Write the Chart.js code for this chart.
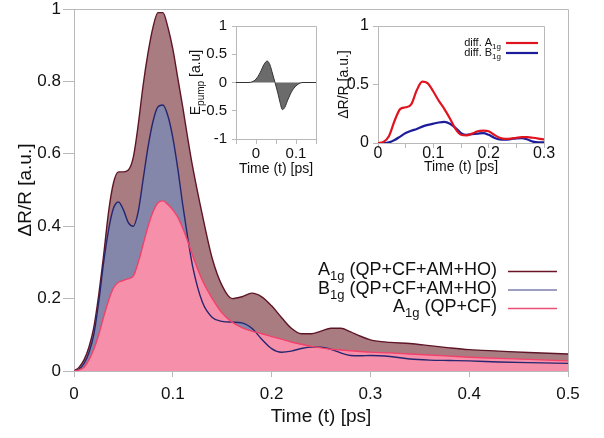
<!DOCTYPE html>
<html>
<head>
<meta charset="utf-8">
<script src="https://cdn.jsdelivr.net/npm/chart.js@4.4.1/dist/chart.umd.min.js"></script>
<style>
  body { margin: 0; background: #fff; }
  #wrap { position: relative; width: 604px; height: 438px; }
  #wrap canvas { position: absolute; }
</style>
</head>
<body>
<div id="wrap">
  <canvas id="main" width="604" height="438" style="left:0;top:0"></canvas>
  <canvas id="pump" width="145" height="166" style="left:180px;top:12px"></canvas>
  <canvas id="diff" width="232" height="166" style="left:336px;top:12px"></canvas>
</div>
<script>
// main panel: delta R / R vs time
const mainTime = [
  0, 0.005, 0.01, 0.015, 0.02, 0.025, 0.03, 0.035, 0.04, 0.045,
  0.05, 0.055, 0.06, 0.065, 0.07, 0.075, 0.08, 0.085, 0.09, 0.095,
  0.1, 0.105, 0.11, 0.115, 0.12, 0.13, 0.14, 0.15, 0.16, 0.17,
  0.18, 0.19, 0.2, 0.21, 0.22, 0.23, 0.24, 0.25, 0.26, 0.27,
  0.28, 0.29, 0.3, 0.32, 0.34, 0.36, 0.38, 0.4, 0.43, 0.46, 0.5
];
const a1gFull = [
  0, 0.01, 0.03, 0.065, 0.12, 0.21, 0.32, 0.44, 0.52, 0.55,
  0.55, 0.555, 0.59, 0.68, 0.79, 0.88, 0.95, 0.99, 0.99, 0.95,
  0.89, 0.81, 0.73, 0.645, 0.565, 0.43, 0.31, 0.235, 0.2, 0.205,
  0.215, 0.205, 0.18, 0.148, 0.118, 0.103, 0.103, 0.11, 0.118, 0.118,
  0.108, 0.096, 0.086, 0.079, 0.076, 0.07, 0.064, 0.059, 0.055, 0.051, 0.047
];
const b1gFull = [
  0, 0.005, 0.02, 0.05, 0.1, 0.19, 0.3, 0.39, 0.45, 0.467,
  0.445, 0.41, 0.4, 0.44, 0.53, 0.62, 0.69, 0.73, 0.735, 0.705,
  0.645, 0.56, 0.46, 0.37, 0.29, 0.19, 0.148, 0.137, 0.135, 0.133,
  0.118, 0.088, 0.062, 0.052, 0.055, 0.062, 0.066, 0.066, 0.06, 0.05,
  0.043, 0.042, 0.043, 0.04, 0.033, 0.03, 0.029, 0.028, 0.025, 0.023, 0.021
];
const a1gQpCf = [
  0, 0.003, 0.01, 0.03, 0.06, 0.1, 0.15, 0.195, 0.23, 0.245,
  0.25, 0.255, 0.262, 0.3, 0.35, 0.4, 0.44, 0.465, 0.47, 0.46,
  0.445, 0.425, 0.395, 0.36, 0.32, 0.25, 0.2, 0.16, 0.135, 0.12,
  0.11, 0.103, 0.095, 0.088, 0.08, 0.074, 0.068, 0.064, 0.06, 0.058,
  0.056, 0.054, 0.052, 0.05, 0.047, 0.044, 0.041, 0.038, 0.035, 0.032, 0.028
];
const mainXTicks = { min: 0, max: 0.5, step: 0.1 };
const mainYTicks = { min: 0, max: 1, step: 0.2 };

// inset 1: pump field
const pumpTime = [-0.05, -0.02, -0.01, 0, 0.01, 0.02, 0.028, 0.035, 0.04, 0.0475,
  0.055, 0.06, 0.066, 0.072, 0.08, 0.09, 0.1, 0.11, 0.12, 0.15];
const pumpField = [0, 0, 0.01, 0.06, 0.17, 0.32, 0.38, 0.31, 0.19, 0,
  -0.2, -0.35, -0.48, -0.44, -0.3, -0.15, -0.06, -0.01, 0, 0];

// inset 2: differences
const diffTime = [0, 0.01, 0.02, 0.03, 0.04, 0.05, 0.06, 0.07, 0.08, 0.09,
  0.1, 0.11, 0.12, 0.13, 0.14, 0.15, 0.16, 0.17, 0.18, 0.19,
  0.2, 0.21, 0.22, 0.23, 0.24, 0.25, 0.26, 0.27, 0.28, 0.29, 0.3];
const diffA1g = [0, 0.01, 0.06, 0.19, 0.29, 0.305, 0.33, 0.45, 0.525, 0.51,
  0.44, 0.36, 0.29, 0.21, 0.12, 0.07, 0.065, 0.08, 0.1, 0.105,
  0.1, 0.07, 0.045, 0.035, 0.038, 0.045, 0.05, 0.05, 0.045, 0.038, 0.03];
const diffB1g = [0, 0, 0.005, 0.025, 0.055, 0.085, 0.105, 0.12, 0.14, 0.155,
  0.165, 0.175, 0.18, 0.165, 0.13, 0.085, 0.07, 0.075, 0.08, 0.085,
  0.07, 0.045, 0.03, 0.028, 0.033, 0.04, 0.042, 0.03, 0.012, 0.005, 0.005];

const FONT = "'Liberation Sans', Arial, sans-serif";
const AXIS_GRAY = '#b9b9b9';
Chart.defaults.font.family = FONT;
Chart.defaults.color = '#111';

const pts = (xs, ys) => xs.map((x, i) => ({ x, y: ys[i] }));

// text with subscripts; parts = [text, size, baseline shift]
function drawRich(ctx, parts, x, y, align) {
  const items = parts.map(([text, size, dy]) => {
    ctx.font = size + 'px ' + FONT;
    return { text, size, dy, w: ctx.measureText(text).width };
  });
  const total = items.reduce((s, it) => s + it.w, 0);
  let cx = align === 'right' ? x - total : align === 'center' ? x - total / 2 : x;
  ctx.textAlign = 'left';
  ctx.textBaseline = 'alphabetic';
  items.forEach((it) => {
    ctx.font = it.size + 'px ' + FONT;
    ctx.fillText(it.text, cx, y + it.dy);
    cx += it.w;
  });
}

const framePlugin = {
  id: 'frame',
  afterDatasetsDraw(chart) {
    const { ctx, chartArea: a } = chart;
    ctx.save();
    ctx.strokeStyle = AXIS_GRAY;
    ctx.lineWidth = 1;
    ctx.beginPath();
    ctx.moveTo(Math.round(a.left), Math.round(a.top) + 0.5);
    ctx.lineTo(Math.round(a.right) + 0.5, Math.round(a.top) + 0.5);
    ctx.lineTo(Math.round(a.right) + 0.5, Math.round(a.bottom));
    ctx.stroke();
    ctx.restore();
  },
};

function fitTo(width, height) {
  return (s) => {
    if (width != null) s.width = width;
    if (height != null) s.height = height;
    s.paddingTop = 0; s.paddingBottom = 0; s.paddingLeft = 0; s.paddingRight = 0;
  };
}

function axis(opts) {
  return {
    type: 'linear',
    min: opts.min,
    max: opts.max,
    ticks: {
      stepSize: opts.step,
      font: { size: opts.fontSize, lineHeight: 1 },
      padding: opts.padding,
      color: '#111',
      maxRotation: 0,
      autoSkip: false,
      callback: opts.callback,
    },
    grid: { drawOnChartArea: false, tickLength: opts.tickLength, color: AXIS_GRAY },
    border: { color: AXIS_GRAY },
    title: opts.title
      ? { display: true, text: opts.title, font: { size: opts.titleSize }, padding: opts.titlePadding, color: '#111' }
      : { display: false },
    afterFit: opts.afterFit,
  };
}

// ---------- main chart ----------
const mainLegend = {
  id: 'mainLegend',
  afterDraw(chart) {
    const ctx = chart.ctx;
    const rows = [
      { name: ['A', ' (QP+CF+AM+HO)'], color: '#6b1426', y: 275 },
      { name: ['B', ' (QP+CF+AM+HO)'], color: '#7b7fae', y: 293.5 },
      { name: ['A', ' (QP+CF)'], color: '#ea4f76', y: 312 },
    ];
    ctx.save();
    ctx.fillStyle = '#111';
    rows.forEach((r) => {
      drawRich(ctx, [[r.name[0], 18, 0], ['1g', 13, 5], [r.name[1], 18, 0]], 497, r.y, 'right');
      ctx.strokeStyle = r.color;
      ctx.lineWidth = 1.5;
      ctx.beginPath();
      ctx.moveTo(508, r.y - 3.5);
      ctx.lineTo(557, r.y - 3.5);
      ctx.stroke();
    });
    ctx.restore();
  },
};

function area(label, ys, line, fill) {
  return {
    label,
    data: pts(mainTime, ys),
    borderColor: line,
    backgroundColor: fill,
    borderWidth: 1.4,
    fill: 'origin',
    pointRadius: 0,
    cubicInterpolationMode: 'monotone',
  };
}

new Chart(document.getElementById('main'), {
  type: 'line',
  data: {
    datasets: [
      area('A1g (QP+CF)', a1gQpCf, '#f2416a', '#f690aa'),
      area('B1g (QP+CF+AM+HO)', b1gFull, '#25266f', '#8487aa'),
      area('A1g (QP+CF+AM+HO)', a1gFull, '#5e1627', '#a97c82'),
    ],
  },
  options: {
    responsive: false,
    animation: false,
    layout: { padding: { left: 0, top: 9, right: 36, bottom: 0 } },
    plugins: {
      legend: { display: false },
      tooltip: { enabled: false },
      filler: { drawTime: 'beforeDatasetsDraw' },
    },
    scales: {
      x: axis({
        min: mainXTicks.min, max: mainXTicks.max, step: mainXTicks.step,
        fontSize: 17, padding: 9, tickLength: 6,
        title: 'Time (t) [ps]', titleSize: 19, titlePadding: { top: 0, bottom: 10 },
        afterFit: fitTo(null, 67),
      }),
      y: axis({
        min: mainYTicks.min, max: mainYTicks.max, step: mainYTicks.step,
        fontSize: 17, padding: 2, tickLength: 11,
        title: 'ΔR/R [a.u.]', titleSize: 19, titlePadding: { top: 14, bottom: 0 },
        afterFit: fitTo(74, null),
      }),
    },
  },
  plugins: [framePlugin, mainLegend],
});

// ---------- inset 1: pump ----------
const tenthsOnly = (v) => {
  const r = Math.round(v * 10) / 10;
  return Math.abs(r - v) < 1e-9 ? String(r === 0 ? 0 : r) : '';
};

const pumpTitle = {
  id: 'pumpTitle',
  afterDraw(chart) {
    const { ctx, chartArea: a } = chart;
    ctx.save();
    ctx.fillStyle = '#111';
    ctx.translate(20, (a.top + a.bottom) / 2);
    ctx.rotate(-Math.PI / 2);
    drawRich(ctx, [['E', 14, 0], ['pump', 10, 4], [' [a.u]', 14, 0]], 0, 0, 'center');
    ctx.restore();
  },
};

new Chart(document.getElementById('pump'), {
  type: 'line',
  data: {
    datasets: [{
      data: pts(pumpTime, pumpField),
      borderColor: '#333',
      backgroundColor: '#6b6b6b',
      borderWidth: 1,
      fill: 'origin',
      pointRadius: 0,
      cubicInterpolationMode: 'monotone',
    }],
  },
  options: {
    responsive: false,
    animation: false,
    layout: { padding: { left: 0, top: 14, right: 9, bottom: 0 } },
    plugins: { legend: { display: false }, tooltip: { enabled: false } },
    scales: {
      x: axis({
        min: -0.05, max: 0.15, step: 0.05, fontSize: 15, padding: 2, tickLength: 5,
        callback: tenthsOnly,
        title: 'Time (t) [ps]', titleSize: 14, titlePadding: { top: 0, bottom: 0 },
        afterFit: fitTo(null, 39),
      }),
      y: axis({
        min: -1, max: 1, step: 0.5, fontSize: 15, padding: 5, tickLength: 4,
        afterFit: fitTo(56, null),
      }),
    },
  },
  plugins: [framePlugin, pumpTitle],
});

// ---------- inset 2: differences ----------
const diffLegend = {
  id: 'diffLegend',
  afterDraw(chart) {
    const ctx = chart.ctx;
    const rows = [
      { sym: 'diff. A', color: '#e0141e', y: 46 - 12 },
      { sym: 'diff. B', color: '#1c1c9a', y: 56 - 12 },
    ];
    ctx.save();
    ctx.fillStyle = '#111';
    rows.forEach((r) => {
      drawRich(ctx, [[r.sym, 11, 0], ['1g', 8, 3]], 501 - 336, r.y, 'right');
      ctx.strokeStyle = r.color;
      ctx.lineWidth = 2.2;
      ctx.beginPath();
      ctx.moveTo(506 - 336, r.y - 3);
      ctx.lineTo(538 - 336, r.y - 3);
      ctx.stroke();
    });
    ctx.restore();
  },
};

function diffLine(label, ys, color) {
  return {
    label,
    data: pts(diffTime, ys),
    borderColor: color,
    borderWidth: 2.2,
    fill: false,
    pointRadius: 0,
    cubicInterpolationMode: 'monotone',
  };
}

new Chart(document.getElementById('diff'), {
  type: 'line',
  data: {
    datasets: [
      diffLine('diff. A1g', diffA1g, '#e0141e'),
      diffLine('diff. B1g', diffB1g, '#1c1c9a'),
    ],
  },
  options: {
    responsive: false,
    animation: false,
    layout: { padding: { left: 0, top: 14, right: 24, bottom: 0 } },
    plugins: { legend: { display: false }, tooltip: { enabled: false } },
    scales: {
      x: axis({
        min: 0, max: 0.3, step: 0.05, fontSize: 16, padding: -2, tickLength: 5,
        callback: tenthsOnly,
        title: 'Time (t) [ps]', titleSize: 14, titlePadding: { top: 0, bottom: 2 },
        afterFit: fitTo(null, 35),
      }),
      y: axis({
        min: 0, max: 1, step: 0.5, fontSize: 16, padding: 4, tickLength: 5,
        title: 'ΔR/R [a.u.]', titleSize: 14, titlePadding: { top: 0, bottom: 0 },
        afterFit: fitTo(42, null),
      }),
    },
  },
  plugins: [framePlugin, diffLegend],
});
</script>
</body>
</html>
